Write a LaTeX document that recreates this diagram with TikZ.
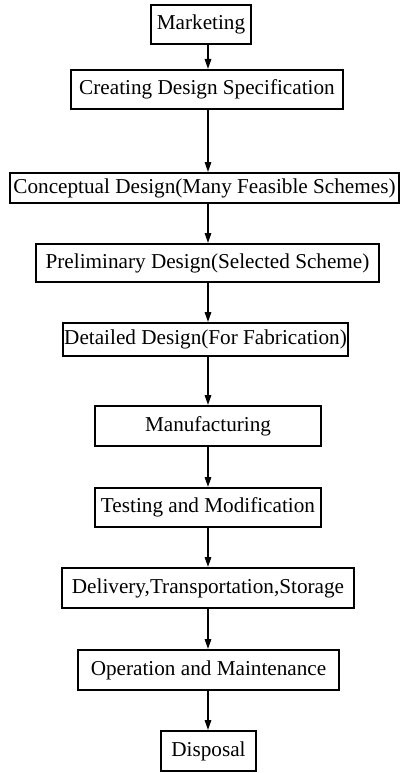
\documentclass[tikz,border=0pt]{standalone}
\usepackage{fontspec}
\setmainfont{Liberation Serif}
\usetikzlibrary{arrows.meta}
\begin{document}
\begin{tikzpicture}[x=1pt,y=-1pt,
  box/.style={draw, line width=1.6pt, inner sep=0pt, font=\fontsize{21.2}{24}\selectfont},
  arr/.style={line width=1.5pt, -{Stealth[length=10pt,width=6.5pt,inset=0pt]}}]
\useasboundingbox (0,0) rectangle (403,773);
\coordinate (ax) at (208,0);
\newcommand{\bx}[6]{\node[box, minimum width={#3-#2-1.6pt}, minimum height={#5-#4-1.6pt}] (#1) at ({(#2+#3)/2},{(#4+#5)/2}) {#6};}
\bx{n1}{150}{252}{4}{45}{Marketing}
\bx{n2}{70}{344}{69}{110}{Creating Design Specification}
\bx{n3}{9}{400}{172}{204}{Conceptual Design(Many Feasible Schemes)}
\bx{n4}{35}{380}{243}{283}{Preliminary Design(Selected Scheme)}
\bx{n5}{62}{349}{322}{357}{Detailed Design(For Fabrication)}
\bx{n6}{94}{322}{405}{447}{Manufacturing}
\bx{n7}{94}{322}{487}{528}{Testing and Modification}
\bx{n8}{61}{355}{567}{609}{Delivery,Transportation,Storage}
\bx{n9}{77}{340}{649}{691}{Operation and Maintenance}
\bx{n10}{160}{257}{730}{772}{Disposal}
\foreach \a/\b in {n1/n2,n2/n3,n3/n4,n4/n5,n5/n6,n6/n7,n7/n8,n8/n9,n9/n10}
  \draw[arr] (\a.south -| ax) -- (\b.north -| ax);
\end{tikzpicture}
\end{document}
